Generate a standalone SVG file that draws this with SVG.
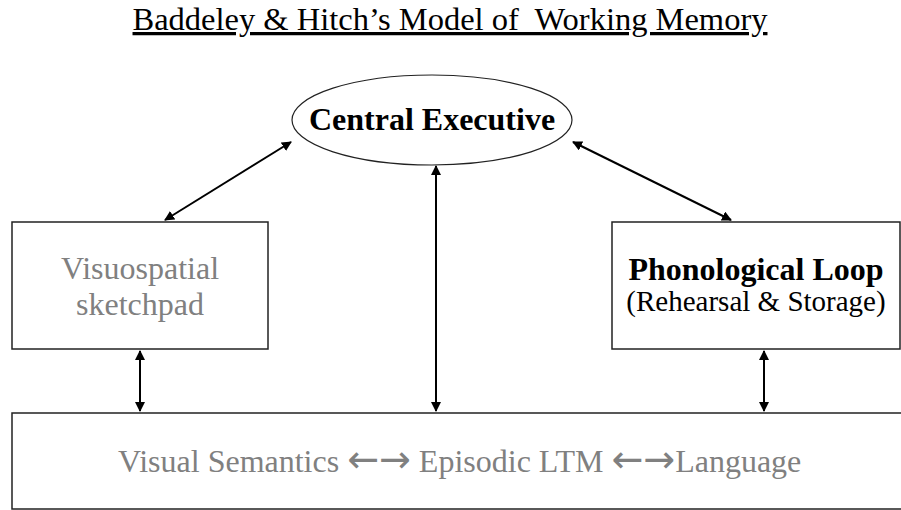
<svg xmlns="http://www.w3.org/2000/svg" width="901" height="510" viewBox="0 0 901 510">
<style>
.box{fill:#fff;stroke:#222;stroke-width:1.5}
.conn{stroke:#000;stroke-width:2;fill:none;marker-start:url(#ah);marker-end:url(#ah)}
.t{font-family:"Liberation Serif","Times New Roman",serif;text-anchor:middle}
.gray{fill:#808080}
.b{font-weight:bold;fill:#000}
.arr{font-family:"DejaVu Sans",sans-serif;font-size:38px}
</style>
<defs>
<marker id="ah" viewBox="0 0 10 10" refX="9" refY="5" markerWidth="5" markerHeight="5" orient="auto-start-reverse" markerUnits="strokeWidth">
<path d="M0,0 L10,5 L0,10 z" fill="#000"/>
</marker>
</defs>
<text class="t" x="450" y="30" font-size="32.5" text-decoration="underline" fill="#000" xml:space="preserve" style="white-space:pre">Baddeley &amp; Hitch’s Model of  Working Memory</text>
<g id="bottom">
<rect class="box" x="12" y="413" width="900" height="96"/>
<text class="gray" x="118" y="472" font-size="32" font-family="Liberation Serif, Times New Roman, serif" xml:space="preserve" style="white-space:pre">Visual Semantics <tspan class="arr">←→</tspan> Episodic LTM <tspan class="arr">←→</tspan>Language</text>
</g>
<g id="central-executive">
<ellipse cx="432" cy="120" rx="140" ry="45" fill="#fff" stroke="#222" stroke-width="1.2"/>
<text class="t b" x="432" y="130" font-size="32">Central Executive</text>
</g>
<g id="visuospatial">
<rect class="box" x="12" y="222" width="256" height="127"/>
<text class="t gray" x="140" y="279" font-size="32">Visuospatial</text>
<text class="t gray" x="140" y="315" font-size="32">sketchpad</text>
</g>
<g id="phonological">
<rect class="box" x="612" y="222" width="288" height="127"/>
<text class="t b" x="756" y="280" font-size="32">Phonological Loop</text>
<text class="t" x="756" y="311" font-size="29" fill="#000">(Rehearsal &amp; Storage)</text>
</g>
<g id="connectors">
<line class="conn" x1="291" y1="142" x2="165" y2="220"/>
<line class="conn" x1="573" y1="142" x2="731" y2="220"/>
<line class="conn" x1="436" y1="166" x2="436" y2="411"/>
<line class="conn" x1="140" y1="351" x2="140" y2="411"/>
<line class="conn" x1="764" y1="351" x2="764" y2="411"/>
</g>
</svg>
